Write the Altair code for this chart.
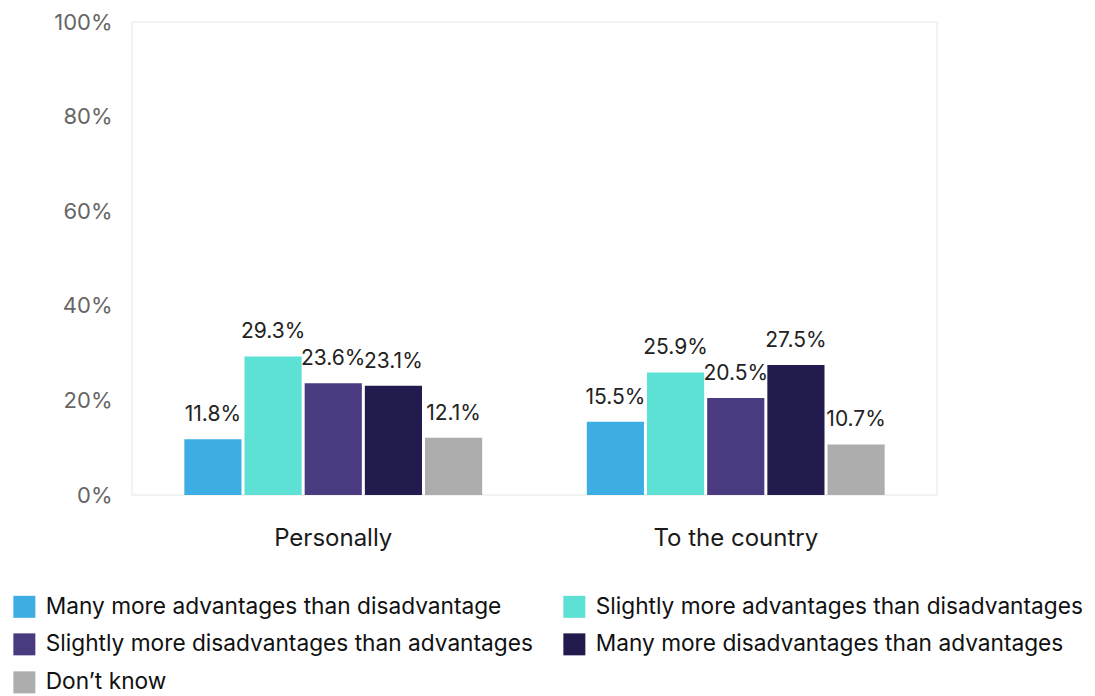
import altair as alt
import pandas as pd

groups = ["Personally", "To the country"]
series = [
    "Many more advantages than disadvantage",
    "Slightly more advantages than disadvantages",
    "Slightly more disadvantages than advantages",
    "Many more disadvantages than advantages",
    "Don\u2019t know",
]
personally = [11.8, 29.3, 23.6, 23.1, 12.1]
country = [15.5, 25.9, 20.5, 27.5, 10.7]
colors = ["#3daee3", "#5ce1d4", "#4a3b80", "#221c4e", "#adadad"]

rows = []
for g, vals in zip(groups, [personally, country]):
    for s, v in zip(series, vals):
        rows.append({"group": g, "series": s, "value": v / 100, "label": f"{v:.1f}%"})
df = pd.DataFrame(rows)

FONT = "Inter"

x = alt.X("group:N", sort=groups, title=None,
          scale=alt.Scale(paddingInner=0.26, paddingOuter=0.13),
          axis=alt.Axis(labelAngle=0, ticks=False, domain=False, labelPadding=31,
                        labelFontSize=24, labelColor="#1a1a1a", labelFont=FONT))
xo = alt.XOffset("series:N", sort=series, scale=alt.Scale(paddingInner=0.05))
y = alt.Y("value:Q", title=None,
          scale=alt.Scale(domain=[0, 1]),
          axis=alt.Axis(format=".0%", values=[0, 0.2, 0.4, 0.6, 0.8, 1.0], grid=False,
                        ticks=False, domain=False, labelPadding=20, labelFontSize=22,
                        labelColor="#666666", labelFont=FONT))

bars = alt.Chart(df).mark_bar().encode(
    x=x, xOffset=xo, y=y,
    color=alt.Color("series:N", sort=series,
                    scale=alt.Scale(domain=series, range=colors),
                    legend=alt.Legend(title=None, orient="none", legendX=-119, legendY=573,
                                      direction="horizontal", padding=0,
                                      columns=2, symbolType="square", symbolSize=484,
                                      symbolStrokeWidth=0, labelFontSize=22.7, labelFont=FONT,
                                      labelColor="#111111", labelLimit=700, labelOffset=10,
                                      rowPadding=14, columnPadding=30)),
)
text = alt.Chart(df).mark_text(baseline="alphabetic", dy=-18, fontSize=21, font=FONT,
                               color="#222222").encode(
    x=x, xOffset=xo, y=y, text="label:N"
)

chart = (bars + text).properties(
    width=805, height=473,
    padding={"left": 5, "top": 3, "right": 0, "bottom": 0},
).configure_view(stroke="#eeeeee", strokeWidth=1.5)

chart.save("out.html", embed_options={"renderer": "svg", "actions": False})
